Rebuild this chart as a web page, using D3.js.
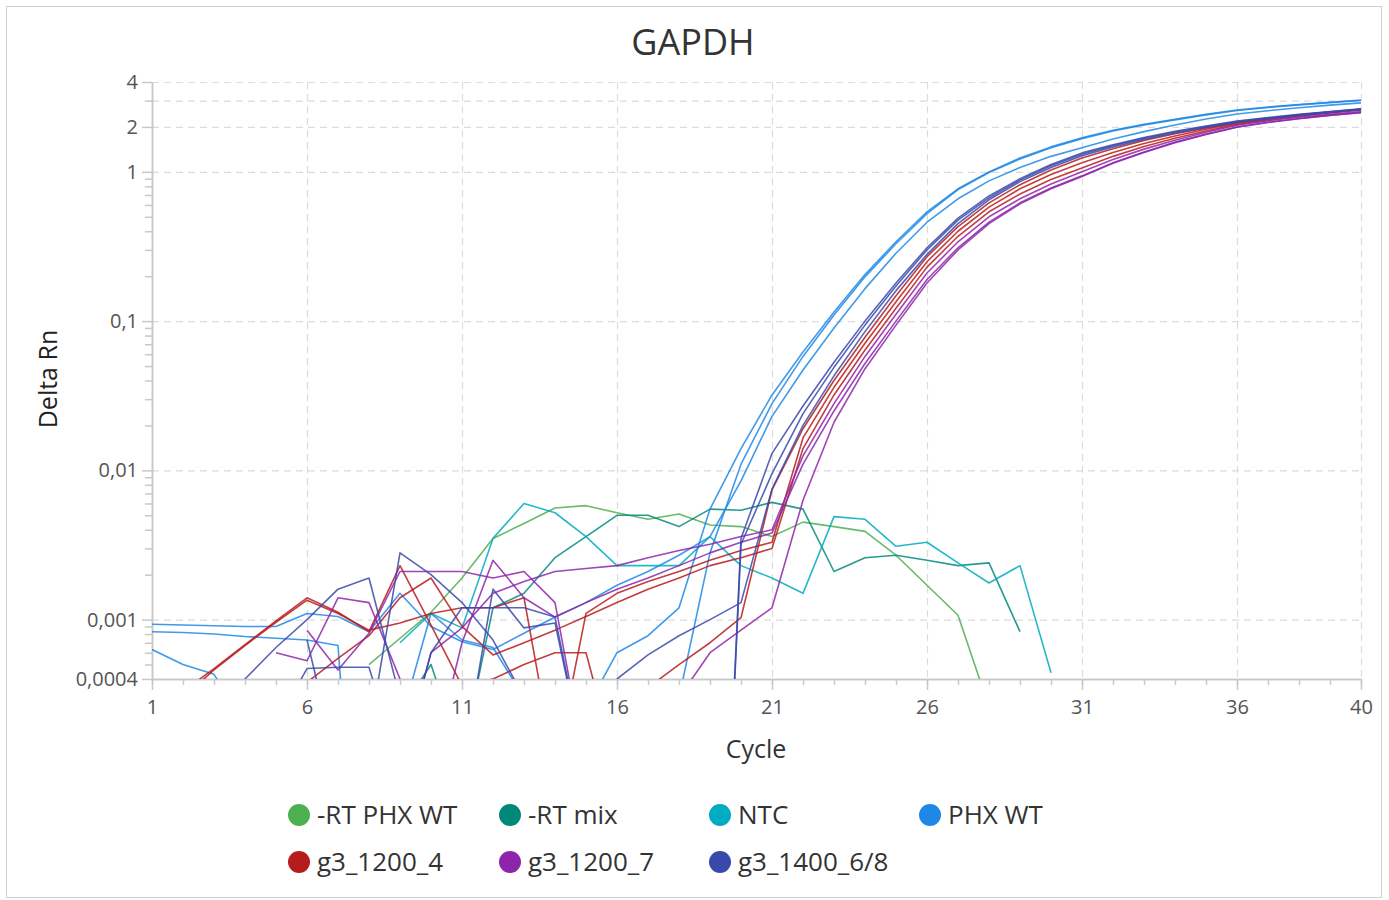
<!DOCTYPE html>
<html lang="en">
<head>
<meta charset="utf-8">
<title>GAPDH</title>
<script src="https://cdnjs.cloudflare.com/ajax/libs/d3/7.8.5/d3.min.js"></script>
<style>
body {
  margin: 0;
  background: #fff;
  font-family: "Open Sans", "Noto Sans", sans-serif;
}
.grid line {
  stroke: #dcdcdc;
  stroke-width: 1.2px;
  stroke-dasharray: 7,5;
}
.grid path { display: none; }
.axis path, .axis line {
  stroke: #c8c8c8;
  stroke-width: 1.5px;
}
.axis text {
  fill: #555;
  font-size: 20px;
  font-family: "Open Sans", sans-serif;
}
.series {
  fill: none;
  stroke-width: 1.6px;
  stroke-opacity: 0.85;
  stroke-linejoin: round;
}
</style>
</head>
<body>
<svg width="1389" height="900"></svg>
<script>
// cycle numbers on the x axis
var cycles = [1,2,3,4,5,6,7,8,9,10,11,12,13,14,15,16,17,18,19,20,21,22,23,24,25,26,27,28,29,30,31,32,33,34,35,36,37,38,39,40];

// Delta Rn per cycle, one array per well (null = no value on log axis)
var rtPhxWt1 = [null,null,null,null,null,null,null,0.0005,0.00075,0.00112,
  0.0019,0.0035,0.0044,0.0056,0.0058,0.0052,0.0047,0.0051,0.0043,0.0042,
  0.0036,0.0045,0.0042,0.0039,0.0027,0.0017,0.00107,0.00026,null,null,
  null,null,null,null,null,null,null,null,null,null];

var rtMix1 = [null,null,null,null,null,null,null,null,0.00024,0.0005,
  0.00012,0.0012,0.0015,0.0026,0.0036,0.005,0.005,0.0042,0.0055,0.0054,
  0.0061,0.0055,0.0021,0.0026,0.0027,0.0025,0.0023,0.0024,0.00083,null,
  null,null,null,null,null,null,null,null,null,null];

var ntc1 = [null,null,null,null,null,null,null,null,0.0007,0.0011,
  0.00088,0.0035,0.006,0.0052,0.0036,0.0023,0.0023,0.0023,0.0036,0.0023,
  0.0019,0.0015,0.0049,0.0047,0.0031,0.0033,0.0024,0.00176,0.0023,0.00044,
  null,null,null,null,null,null,null,null,null,null];

var phxWt1 = [0.00093,0.00092,0.00091,0.0009,0.0009,0.0011,0.00105,0.00083,0.0015,0.0009,
  0.00071,0.00063,0.00081,0.00104,0.0013,0.0017,0.0021,0.0027,0.0036,0.0085,
  0.023,0.047,0.09,0.165,0.285,0.46,0.66,0.87,1.07,1.27,
  1.45,1.66,1.86,2.06,2.26,2.44,2.57,2.69,2.8,2.9];
var phxWt2 = [0.00083,0.00082,0.0008,0.00077,0.00075,0.00073,0.00067,0.000001,0.0002,0.0011,
  0.00073,0.00065,0.0003,0.0001,0.00025,0.0006,0.00078,0.0012,0.0055,0.014,
  0.032,0.062,0.115,0.205,0.34,0.54,0.77,1.0,1.24,1.47,
  1.69,1.9,2.08,2.25,2.43,2.6,2.72,2.83,2.93,3.03];
var phxWt3 = [0.00063,0.0005,0.00043,0.0002,0.0001,0.0001,0.0001,0.0001,0.0001,0.0001,
  0.0001,0.0001,0.0001,0.0001,0.0001,0.0001,0.0001,0.0003,0.0028,0.011,
  0.028,0.058,0.11,0.198,0.33,0.525,0.76,0.99,1.22,1.45,
  1.67,1.88,2.06,2.23,2.41,2.58,2.7,2.81,2.91,3.01];

var g1200_4a = [0.0002,0.00033,0.00047,0.00068,0.00098,0.0014,0.00112,0.00083,0.0023,0.00092,
  0.00036,0.0004,0.0005,0.0006,0.0006,0.0001,0.00035,0.0005,0.0007,0.00103,
  0.0074,0.019,0.04,0.078,0.148,0.27,0.43,0.62,0.82,1.03,
  1.24,1.43,1.62,1.8,1.97,2.15,2.28,2.41,2.53,2.64];
var g1200_4b = [0.00015,0.0003,0.00046,0.00067,0.00096,0.00135,0.0011,0.00085,0.00095,0.0011,
  0.0012,0.0012,0.0014,0.0001,0.0011,0.0015,0.0018,0.0021,0.0025,0.0029,
  0.0033,0.0165,0.036,0.071,0.135,0.25,0.4,0.58,0.77,0.96,
  1.15,1.35,1.55,1.74,1.93,2.12,2.26,2.39,2.51,2.62];
var g1200_4c = [0.0001,0.0001,0.0001,0.0001,0.0001,0.00038,0.00055,0.00078,0.0014,0.0019,
  0.0009,0.00058,0.0007,0.00085,0.00105,0.0013,0.0016,0.0019,0.0023,0.0026,
  0.003,0.014,0.032,0.064,0.122,0.23,0.37,0.54,0.71,0.89,
  1.06,1.27,1.48,1.68,1.88,2.08,2.22,2.36,2.48,2.6];

var g1200_7a = [null,null,null,null,0.0006,0.00053,0.0014,0.0013,0.0004,0.0001,
  0.0007,0.0025,0.0014,0.00104,0.0013,0.0016,0.0019,0.0023,0.0028,0.0033,
  0.0038,0.011,0.025,0.052,0.1,0.19,0.31,0.46,0.62,0.78,
  0.94,1.15,1.36,1.58,1.79,2.0,2.15,2.28,2.4,2.5];
var g1200_7b = [null,null,null,null,null,0.00085,0.00046,0.00081,0.0021,0.0021,
  0.0021,0.0019,0.0021,0.0013,0.0001,0.0001,0.0001,0.0003,0.0006,0.00085,
  0.0012,0.0063,0.021,0.048,0.094,0.18,0.3,0.45,0.61,0.77,
  0.93,1.14,1.35,1.57,1.78,1.99,2.14,2.27,2.39,2.49];
var g1200_7c = [null,null,null,null,null,null,null,null,0.0001,0.0006,
  0.00088,0.0015,0.0018,0.0021,0.0022,0.0023,0.0026,0.0029,0.0032,0.0036,
  0.004,0.0125,0.028,0.058,0.111,0.21,0.34,0.5,0.66,0.83,
  1.0,1.21,1.42,1.63,1.84,2.05,2.2,2.32,2.43,2.54];

var g1400_68a = [0.0001,0.0001,0.0002,0.0004,0.00065,0.001,0.0016,0.0019,0.0003,0.0001,
  0.0001,0.0016,0.00088,0.00095,0.0001,0.0004,0.00058,0.00078,0.001,0.0013,
  0.0075,0.02,0.043,0.085,0.16,0.28,0.45,0.65,0.86,1.07,
  1.28,1.47,1.65,1.82,1.98,2.14,2.27,2.39,2.5,2.61];
var g1400_68b = [null,null,null,null,null,0.00073,0.0001,0.00017,0.0028,0.002,
  0.0013,0.00073,0.0003,0.0001,0.0001,0.0001,0.0001,0.0001,0.0000001,0.0035,
  0.013,0.027,0.053,0.1,0.18,0.31,0.49,0.69,0.9,1.12,
  1.34,1.52,1.7,1.87,2.03,2.19,2.31,2.43,2.54,2.65];
var g1400_68c = [null,null,null,null,0.0002,0.00047,0.00048,0.00048,0.0001,0.0006,
  0.0012,0.0012,0.0012,0.00104,0.0001,0.0001,0.0001,0.0001,0.0000001,0.0032,
  0.0095,0.024,0.049,0.094,0.172,0.3,0.475,0.67,0.88,1.1,
  1.31,1.5,1.68,1.85,2.01,2.17,2.29,2.41,2.52,2.63];

// samples, legend order
var sampleNames = ["-RT PHX WT", "-RT mix", "NTC", "PHX WT", "g3_1200_4", "g3_1200_7", "g3_1400_6/8"];
var sampleColors = ["#4caf50", "#00897b", "#00acc1", "#1e88e5", "#b71c1c", "#8e24aa", "#3949ab"];
var sampleWells = [
  [rtPhxWt1],
  [rtMix1],
  [ntc1],
  [phxWt1, phxWt2, phxWt3],
  [g1200_4a, g1200_4b, g1200_4c],
  [g1200_7a, g1200_7b, g1200_7c],
  [g1400_68a, g1400_68b, g1400_68c]
];

// axis ticks
var xTicks = [1, 6, 11, 16, 21, 26, 31, 36, 40];
var yTicks = [4, 2, 1, 0.1, 0.01, 0.001, 0.0004];
var yTickLabels = ["4", "2", "1", "0,1", "0,01", "0,001", "0,0004"];
var yGrid = [4, 3, 2, 1, 0.1, 0.01, 0.001];
var yMinor = [0.0005,0.0006,0.0007,0.0008,0.0009,
  0.002,0.003,0.004,0.005,0.006,0.007,0.008,0.009,
  0.02,0.03,0.04,0.05,0.06,0.07,0.08,0.09,
  0.2,0.3,0.4,0.5,0.6,0.7,0.8,0.9, 3];

var svg = d3.select("svg"),
    margin = {top: 82, right: 28, bottom: 221, left: 152},
    width = +svg.attr("width") - margin.left - margin.right,
    height = +svg.attr("height") - margin.top - margin.bottom;

// outer frame
svg.append("rect")
    .attr("x", 6.5).attr("y", 6.5)
    .attr("width", 1375).attr("height", 891)
    .attr("fill", "none")
    .attr("stroke", "#d0d0d0");

var x = d3.scaleLinear().domain([1, 40]).range([0, width]);
var y = d3.scaleLog().domain([0.0004, 4]).range([height, 0]);

var g = svg.append("g")
    .attr("transform", "translate(" + margin.left + "," + margin.top + ")");

g.append("defs").append("clipPath").attr("id", "plot-clip")
  .append("rect").attr("x", 0).attr("y", 0).attr("width", width).attr("height", height);

// grid
g.append("g")
    .attr("class", "grid")
    .call(d3.axisLeft(y).tickValues(yGrid).tickSize(-width).tickFormat(""));
g.append("g")
    .attr("class", "grid")
    .attr("transform", "translate(0," + height + ")")
    .call(d3.axisBottom(x).tickValues(xTicks.slice(1)).tickSize(height).tickFormat(""))
    .selectAll("line").attr("transform", "translate(0," + (-height) + ")");

// axes
g.append("g")
    .attr("class", "axis")
    .call(d3.axisLeft(y).tickValues(yMinor).tickSize(7).tickSizeOuter(0).tickFormat(""));
g.append("g")
    .attr("class", "axis")
    .call(d3.axisLeft(y).tickValues(yTicks).tickSize(10).tickSizeOuter(0).tickPadding(4)
      .tickFormat(function(d, i) { return yTickLabels[i]; }));

g.append("g")
    .attr("class", "axis")
    .attr("transform", "translate(0," + height + ")")
    .call(d3.axisBottom(x).tickValues(cycles).tickSize(6).tickSizeOuter(0).tickFormat(""));
g.append("g")
    .attr("class", "axis")
    .attr("transform", "translate(0," + height + ")")
    .call(d3.axisBottom(x).tickValues(xTicks).tickSize(11).tickSizeOuter(0).tickPadding(10)
      .tickFormat(d3.format("d")));

// lines
var line = d3.line()
    .defined(function(d) { return d != null; })
    .x(function(d, i) { return x(cycles[i]); })
    .y(function(d) { return y(d); });

var plot = g.append("g").attr("clip-path", "url(#plot-clip)");
sampleWells.forEach(function(wells, s) {
  wells.forEach(function(w) {
    plot.append("path")
        .attr("class", "series")
        .attr("stroke", sampleColors[s])
        .attr("d", line(w));
  });
});

// titles
svg.append("text")
    .attr("x", 693).attr("y", 55)
    .attr("text-anchor", "middle")
    .attr("fill", "#333")
    .style("font-size", "36px")
    .text("GAPDH");

svg.append("text")
    .attr("transform", "translate(57,379) rotate(-90)")
    .attr("text-anchor", "middle")
    .attr("fill", "#222")
    .style("font-size", "25px")
    .text("Delta Rn");

svg.append("text")
    .attr("x", 756).attr("y", 758)
    .attr("text-anchor", "middle")
    .attr("fill", "#333")
    .style("font-size", "25px")
    .text("Cycle");

// legend
var legendX = [299, 510, 720, 930];
var legendY = [815, 862];
var legend = svg.append("g");
sampleNames.forEach(function(name, i) {
  var lx = legendX[i % 4], ly = legendY[Math.floor(i / 4)];
  legend.append("circle")
      .attr("cx", lx).attr("cy", ly).attr("r", 11)
      .attr("fill", sampleColors[i]);
  legend.append("text")
      .attr("x", lx + 18).attr("y", ly + 9)
      .attr("fill", "#333")
      .style("font-size", "26px")
      .text(name);
});
</script>
</body>
</html>
